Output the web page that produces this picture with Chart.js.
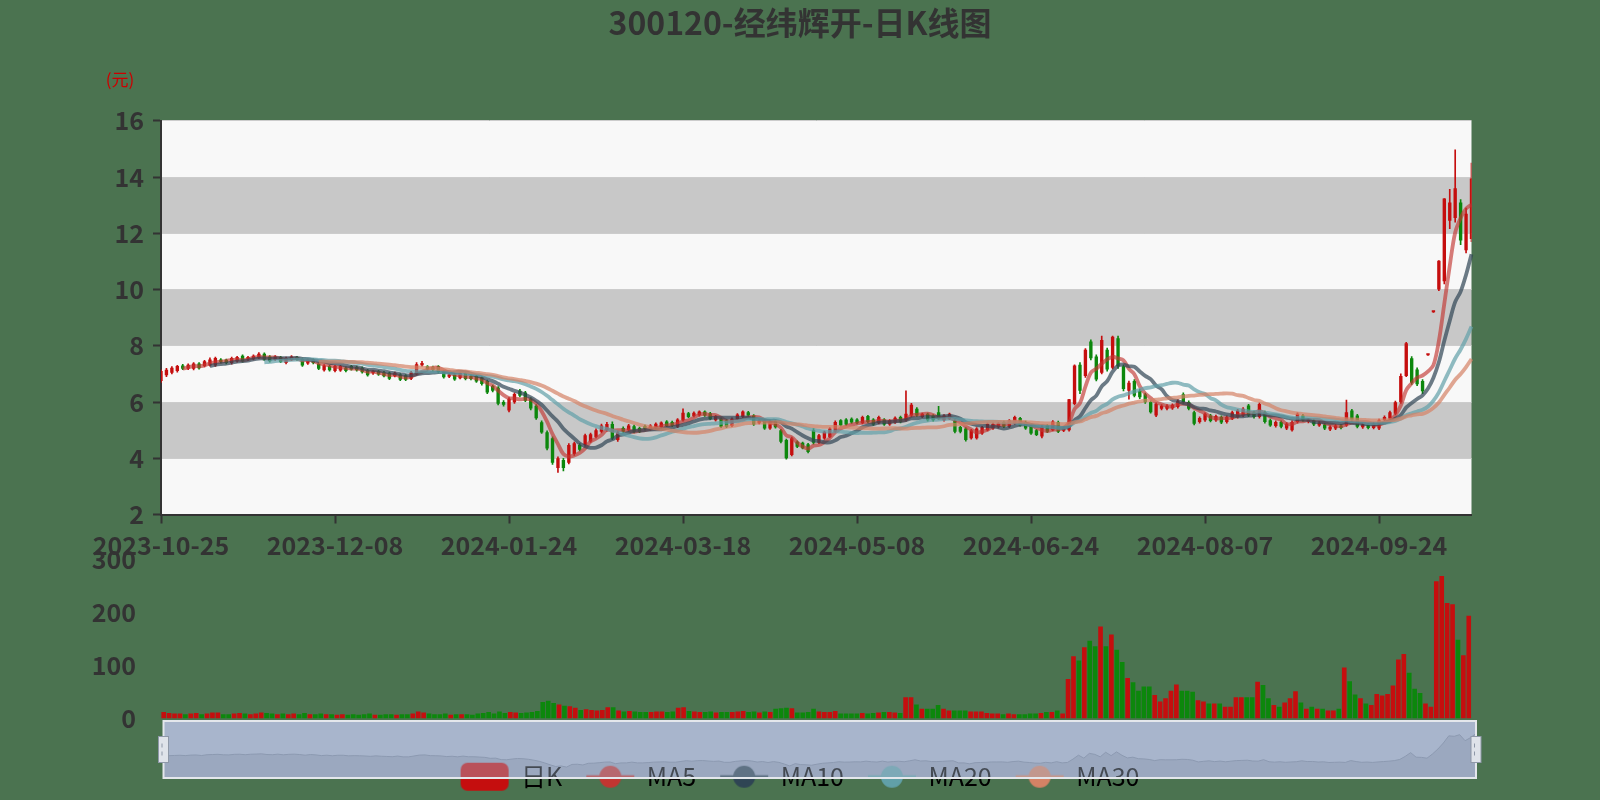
<!DOCTYPE html>
<html>
<head>
<meta charset="utf-8">
<title>300120-经纬辉开-日K线图</title>
<script src="https://cdn.jsdelivr.net/npm/chart.js@4.4.1/dist/chart.umd.min.js"></script>
<style>
  html, body { margin: 0; padding: 0; background: #4b7350; }
  #wrap { position: relative; width: 1600px; height: 800px; overflow: hidden; }
  #wrap canvas { position: absolute; left: 0; top: 0; }
</style>
</head>
<body>
<div id="wrap">
  <canvas id="zoomChart" width="1600" height="800"></canvas>
  <canvas id="volChart" width="1600" height="800"></canvas>
  <canvas id="kChart" width="1600" height="800"></canvas>
</div>
<script>
// 交易日
const dates = [
  '2023-10-25','2023-10-26','2023-10-27','2023-10-30','2023-10-31',
  '2023-11-01','2023-11-02','2023-11-03','2023-11-06','2023-11-07','2023-11-08','2023-11-09','2023-11-10','2023-11-13','2023-11-14','2023-11-15','2023-11-16','2023-11-17','2023-11-20','2023-11-21','2023-11-22','2023-11-23','2023-11-24','2023-11-27','2023-11-28','2023-11-29','2023-11-30',
  '2023-12-01','2023-12-04','2023-12-05','2023-12-06','2023-12-07','2023-12-08','2023-12-11','2023-12-12','2023-12-13','2023-12-14','2023-12-15','2023-12-18','2023-12-19','2023-12-20','2023-12-21','2023-12-22','2023-12-25','2023-12-26','2023-12-27','2023-12-28','2023-12-29',
  '2024-01-02','2024-01-03','2024-01-04','2024-01-05','2024-01-08','2024-01-09','2024-01-10','2024-01-11','2024-01-12','2024-01-15','2024-01-16','2024-01-17','2024-01-18','2024-01-19','2024-01-22','2024-01-23','2024-01-24','2024-01-25','2024-01-26','2024-01-29','2024-01-30','2024-01-31',
  '2024-02-01','2024-02-02','2024-02-05','2024-02-06','2024-02-07','2024-02-08','2024-02-19','2024-02-20','2024-02-21','2024-02-22','2024-02-23','2024-02-26','2024-02-27','2024-02-28','2024-02-29',
  '2024-03-01','2024-03-04','2024-03-05','2024-03-06','2024-03-07','2024-03-08','2024-03-11','2024-03-12','2024-03-13','2024-03-14','2024-03-15','2024-03-18','2024-03-19','2024-03-20','2024-03-21','2024-03-22','2024-03-25','2024-03-26','2024-03-27','2024-03-28','2024-03-29',
  '2024-04-01','2024-04-02','2024-04-03','2024-04-08','2024-04-09','2024-04-10','2024-04-11','2024-04-12','2024-04-15','2024-04-16','2024-04-17','2024-04-18','2024-04-19','2024-04-22','2024-04-23','2024-04-24','2024-04-25','2024-04-26','2024-04-29','2024-04-30',
  '2024-05-06','2024-05-07','2024-05-08','2024-05-09','2024-05-10','2024-05-13','2024-05-14','2024-05-15','2024-05-16','2024-05-17','2024-05-20','2024-05-21','2024-05-22','2024-05-23','2024-05-24','2024-05-27','2024-05-28','2024-05-29','2024-05-30','2024-05-31',
  '2024-06-03','2024-06-04','2024-06-05','2024-06-06','2024-06-07','2024-06-11','2024-06-12','2024-06-13','2024-06-14','2024-06-17','2024-06-18','2024-06-19','2024-06-20','2024-06-21','2024-06-24','2024-06-25','2024-06-26','2024-06-27','2024-06-28',
  '2024-07-01','2024-07-02','2024-07-03','2024-07-04','2024-07-05','2024-07-08','2024-07-09','2024-07-10','2024-07-11','2024-07-12','2024-07-15','2024-07-16','2024-07-17','2024-07-18','2024-07-19','2024-07-22','2024-07-23','2024-07-24','2024-07-25','2024-07-26','2024-07-29','2024-07-30','2024-07-31',
  '2024-08-01','2024-08-02','2024-08-05','2024-08-06','2024-08-07','2024-08-08','2024-08-09','2024-08-12','2024-08-13','2024-08-14','2024-08-15','2024-08-16','2024-08-19','2024-08-20','2024-08-21','2024-08-22','2024-08-23','2024-08-26','2024-08-27','2024-08-28','2024-08-29','2024-08-30',
  '2024-09-02','2024-09-03','2024-09-04','2024-09-05','2024-09-06','2024-09-09','2024-09-10','2024-09-11','2024-09-12','2024-09-13','2024-09-18','2024-09-19','2024-09-20','2024-09-23','2024-09-24','2024-09-25','2024-09-26','2024-09-27','2024-09-30',
  '2024-10-08','2024-10-09','2024-10-10','2024-10-11','2024-10-14','2024-10-15','2024-10-16','2024-10-17','2024-10-18','2024-10-21','2024-10-22','2024-10-23','2024-10-24'
];

// [开盘, 收盘, 最低, 最高]
const kData = [
  [6.75,7.10,6.70,7.15],[6.95,7.15,6.90,7.20],[7.04,7.22,7.00,7.26],[7.10,7.28,7.06,7.31],[7.30,7.18,7.15,7.34],
  [7.18,7.33,7.15,7.36],[7.18,7.37,7.14,7.40],[7.37,7.20,7.17,7.40],[7.28,7.45,7.25,7.48],[7.30,7.51,7.28,7.57],
  [7.30,7.57,7.27,7.60],[7.51,7.42,7.38,7.55],[7.50,7.39,7.36,7.53],[7.39,7.57,7.35,7.60],[7.45,7.60,7.42,7.63],
  [7.65,7.45,7.42,7.68],[7.51,7.60,7.47,7.63],[7.53,7.65,7.50,7.68],[7.57,7.72,7.54,7.76],[7.72,7.51,7.48,7.75],
  [7.62,7.45,7.42,7.65],[7.51,7.62,7.48,7.65],[7.60,7.42,7.40,7.63],[7.39,7.57,7.36,7.60],[7.50,7.62,7.47,7.65],
  [7.60,7.51,7.48,7.63],[7.53,7.30,7.27,7.56],[7.37,7.51,7.34,7.54],[7.51,7.39,7.36,7.54],[7.37,7.18,7.15,7.40],
  [7.13,7.30,7.10,7.33],[7.28,7.13,7.10,7.31],[7.10,7.28,7.07,7.31],[7.12,7.28,7.09,7.31],[7.22,7.10,7.07,7.25],
  [7.28,7.16,7.13,7.31],[7.25,7.13,7.10,7.28],[7.22,7.06,7.03,7.25],[7.13,6.95,6.92,7.16],[7.02,7.10,6.98,7.13],
  [7.10,6.98,6.95,7.13],[7.06,6.92,6.89,7.09],[7.04,6.83,6.80,7.07],[6.92,7.04,6.89,7.07],[6.98,6.79,6.76,7.01],
  [6.95,6.79,6.76,6.98],[6.83,7.06,6.80,7.09],[6.99,7.34,6.96,7.40],[7.31,7.39,7.28,7.45],[7.27,7.16,7.13,7.30],
  [7.25,7.14,7.11,7.28],[7.27,7.07,7.04,7.30],[7.09,6.88,6.85,7.12],[6.90,6.98,6.87,7.01],[6.98,6.80,6.77,7.01],
  [6.85,7.03,6.82,7.06],[7.03,6.82,6.79,7.06],[6.93,6.82,6.79,6.96],[6.93,6.73,6.70,6.96],[6.88,6.64,6.60,6.91],
  [6.75,6.34,6.30,6.78],[6.57,6.40,6.36,6.60],[6.52,5.94,5.90,6.55],[6.00,5.90,5.85,6.05],[5.70,6.12,5.65,6.16],
  [5.99,6.29,5.95,6.33],[6.40,6.22,6.18,6.45],[6.34,6.05,6.01,6.38],[6.12,5.77,5.72,6.16],[5.87,5.42,5.38,5.91],
  [5.28,4.92,4.88,5.33],[4.93,4.35,4.30,4.98],[4.71,3.84,3.78,4.76],[3.65,4.00,3.50,4.05],[3.94,3.65,3.55,4.00],
  [3.84,4.47,3.80,4.52],[4.15,4.53,4.10,4.58],[4.47,4.30,4.26,4.52],[4.47,4.82,4.43,4.86],[4.60,4.85,4.56,4.90],
  [4.76,5.00,4.72,5.05],[4.94,5.17,4.90,5.22],[5.00,5.22,4.96,5.28],[5.22,4.70,4.66,5.30],[4.65,4.93,4.60,4.97],
  [5.08,4.94,4.90,5.12],[5.00,5.17,4.96,5.21],[5.14,4.94,4.90,5.18],[5.08,4.94,4.91,5.11],[5.15,5.03,5.00,5.18],
  [5.03,5.17,5.00,5.20],[5.08,5.23,5.05,5.26],[5.11,5.27,5.08,5.30],[5.31,5.15,5.12,5.34],[5.29,5.15,5.12,5.32],
  [5.12,5.38,5.09,5.41],[5.35,5.62,5.32,5.76],[5.60,5.47,5.44,5.63],[5.50,5.62,5.47,5.65],[5.53,5.66,5.50,5.69],
  [5.66,5.52,5.49,5.69],[5.60,5.40,5.37,5.63],[5.35,5.50,5.32,5.53],[5.41,5.12,5.09,5.44],[5.35,5.12,5.09,5.38],
  [5.15,5.41,5.12,5.44],[5.40,5.56,5.37,5.59],[5.47,5.66,5.44,5.69],[5.64,5.52,5.49,5.67],[5.52,5.20,5.17,5.55],
  [5.25,5.35,5.22,5.38],[5.35,5.06,5.03,5.38],[5.06,5.33,5.03,5.36],[5.33,5.10,5.07,5.36],[5.00,4.59,4.55,5.03],
  [4.65,4.00,3.97,4.68],[4.12,4.71,4.08,4.75],[4.59,4.41,4.38,4.62],[4.55,4.36,4.33,4.58],[4.50,4.22,4.19,4.53],
  [5.00,4.55,4.50,5.06],[4.55,4.82,4.52,4.85],[4.70,4.94,4.67,4.97],[4.76,5.06,4.73,5.09],[4.95,5.29,4.92,5.33],
  [5.35,5.17,5.14,5.38],[5.38,5.20,5.17,5.41],[5.41,5.27,5.24,5.44],[5.38,5.25,5.22,5.41],[5.25,5.47,5.22,5.50],
  [5.50,5.29,5.26,5.53],[5.38,5.20,5.17,5.41],[5.25,5.47,5.22,5.50],[5.38,5.20,5.17,5.41],[5.20,5.35,5.17,5.38],
  [5.27,5.44,5.24,5.47],[5.47,5.29,5.26,5.50],[5.35,5.58,5.32,6.40],[5.52,5.90,5.48,5.95],[5.76,5.52,5.49,5.80],
  [5.47,5.58,5.44,5.61],[5.58,5.35,5.32,5.61],[5.52,5.35,5.32,5.55],[5.64,5.41,5.38,5.85],[5.35,5.52,5.32,5.55],
  [5.40,5.58,5.37,5.61],[5.35,4.94,4.90,5.38],[5.11,4.94,4.90,5.14],[5.06,4.65,4.61,5.09],[4.71,5.00,4.68,5.03],
  [4.71,5.06,4.68,5.09],[4.88,5.11,4.85,5.14],[5.00,5.23,4.97,5.26],[5.06,5.23,5.03,5.26],[5.10,5.25,5.07,5.28],
  [5.29,5.12,5.09,5.32],[5.12,5.35,5.09,5.38],[5.23,5.47,5.20,5.50],[5.43,5.17,5.14,5.46],[5.29,5.06,5.03,5.32],
  [5.17,4.88,4.85,5.20],[5.00,4.83,4.80,5.03],[4.77,5.12,4.72,5.15],[5.17,4.94,4.91,5.20],[5.00,5.31,4.97,5.34],
  [5.29,4.94,4.91,5.32],[4.98,5.08,4.95,5.11],[5.00,6.10,4.96,6.10],[5.93,7.30,5.90,7.32],[7.33,6.40,6.30,7.40],
  [6.93,7.86,6.88,7.90],[8.15,7.56,7.50,8.21],[7.62,6.80,6.75,7.68],[7.04,8.21,7.00,8.35],[7.86,7.16,7.10,7.92],
  [7.22,8.32,7.18,8.35],[8.27,7.27,7.20,8.35],[7.27,6.46,6.40,7.32],[6.40,6.69,6.10,6.75],[6.75,6.22,6.18,6.80],
  [6.40,6.17,6.12,6.45],[6.28,5.99,5.95,6.32],[6.00,5.64,5.60,6.04],[5.52,5.93,5.48,5.97],[5.76,5.87,5.72,5.91],
  [5.76,5.87,5.72,5.91],[5.78,5.90,5.74,5.94],[5.82,6.05,5.78,6.09],[6.28,5.99,5.95,6.33],[6.00,5.76,5.72,6.04],
  [5.64,5.23,5.19,5.68],[5.29,5.43,5.25,5.47],[5.35,5.58,5.31,5.62],[5.52,5.33,5.29,5.56],[5.35,5.50,5.31,5.54],
  [5.47,5.27,5.23,5.51],[5.29,5.47,5.25,5.51],[5.41,5.64,5.37,5.68],[5.47,5.70,5.43,5.74],[5.52,5.76,5.48,5.80],
  [5.88,5.52,5.48,5.92],[5.64,5.47,5.43,5.68],[5.47,5.93,5.43,5.97],[5.64,5.29,5.25,5.68],[5.35,5.17,5.13,5.39],
  [5.15,5.29,5.11,5.33],[5.29,5.12,5.08,5.33],[5.06,5.23,5.02,5.27],[5.00,5.29,4.96,5.33],[5.29,5.58,5.25,5.62],
  [5.52,5.35,5.31,5.56],[5.30,5.38,5.26,5.42],[5.35,5.20,5.16,5.39],[5.17,5.27,5.13,5.31],[5.20,5.06,5.02,5.24],
  [5.02,5.12,4.98,5.16],[5.06,5.17,5.02,5.21],[5.17,5.08,5.04,5.21],[5.17,5.64,5.13,6.07],[5.70,5.35,5.31,5.74],
  [5.52,5.12,5.08,5.56],[5.10,5.20,5.06,5.24],[5.20,5.08,5.04,5.24],[5.08,5.23,5.04,5.27],[5.06,5.35,5.02,5.39],
  [5.36,5.47,5.32,5.51],[5.41,5.64,5.37,5.68],[5.58,5.99,5.54,6.03],[5.99,6.93,5.95,7.00],[6.93,8.09,6.90,8.12],
  [7.56,6.69,6.63,7.62],[7.16,6.63,6.58,7.22],[6.75,6.38,6.30,6.80],[7.66,7.66,7.66,7.66],[9.19,9.19,9.19,9.19],
  [10.00,11.03,9.96,11.03],[10.30,13.24,10.20,13.24],[12.45,13.10,12.17,13.57],[12.55,13.60,12.40,14.97],[13.10,11.75,11.60,13.20],
  [11.40,12.70,11.30,12.90],[11.80,13.95,11.70,14.50]
];

// 成交量(万手)
const volumes = [
  12,10,9,9,8,9,10,8,9,11,
  11,8,8,9,10,9,8,9,11,10,
  9,8,9,8,9,8,10,8,8,9,
  8,8,7,8,7,8,7,8,9,7,
  7,8,8,7,8,8,9,13,11,9,
  8,8,9,7,8,8,8,7,9,10,
  12,9,13,10,12,11,10,11,12,14,
  31,33,29,26,24,23,20,16,17,16,
  15,16,21,21,15,13,14,13,12,12,
  12,13,13,12,13,20,21,14,13,12,
  12,13,11,12,12,12,13,14,12,13,
  11,13,12,18,19,20,19,11,11,12,
  18,13,12,12,14,9,9,9,9,10,
  9,10,11,12,12,11,10,40,40,26,
  18,18,18,25,18,15,15,15,15,13,
  13,13,10,9,9,8,9,8,8,8,
  9,9,10,12,12,15,9,74,117,109,
  134,146,136,173,136,158,129,106,76,68,
  52,60,60,44,32,38,52,64,52,52,
  50,34,32,28,28,28,22,22,40,40,
  40,40,69,63,38,25,22,30,38,51,
  30,18,22,18,18,15,15,18,96,70,
  45,38,28,25,46,43,46,62,111,121,
  86,56,48,28,22,258,268,217,215,148,
  119,193
];

const priceTicks = [2, 16, 2];     // min, max, step
const volumeTicks = [0, 300, 100];
const labelInterval = 32;
const maPeriods = [5, 10, 20, 30];
const maNames = ['MA5', 'MA10', 'MA20', 'MA30'];

const upColor = '#c50e0e';
const downColor = '#0c870c';
const maBase = ['#c23531', '#2f4554', '#61a0a8', '#d48265'];
const maLine = ['rgba(194,53,49,0.65)', 'rgba(47,69,84,0.7)', 'rgba(97,160,168,0.7)', 'rgba(212,130,101,0.7)'];
const tickFont = { size: 25, weight: 'bold' };

Chart.defaults.font.family = "'Noto Sans CJK SC', 'Noto Sans', sans-serif";
Chart.defaults.color = '#333';

function calculateMA(dayCount) {
  const result = [];
  for (let i = 0; i < kData.length; i++) {
    if (i < dayCount - 1) { result.push(null); continue; }
    let sum = 0;
    for (let j = 0; j < dayCount; j++) sum += kData[i - j][1];
    result.push(+(sum / dayCount).toFixed(3));
  }
  return result;
}

const closes = kData.map(d => d[1]);
const candleColors = kData.map(d => d[1] >= d[0] ? upColor : downColor);

// 缩略轴 (底层)
const zoomChart = new Chart(document.getElementById('zoomChart'), {
  type: 'line',
  data: {
    labels: dates,
    datasets: [{
      data: closes,
      borderColor: '#7a869e',
      borderWidth: 1,
      backgroundColor: '#939fb6',
      fill: 'start',
      pointRadius: 0,
      tension: 0
    }]
  },
  options: {
    responsive: false,
    animation: false,
    devicePixelRatio: 1,
    layout: { padding: { left: 163.5, right: 124, top: 721, bottom: 22 } },
    scales: {
      x: { display: false, offset: false },
      y: { display: false, min: 0.3, max: 17.8 }
    },
    plugins: { legend: { display: false }, tooltip: { enabled: false } }
  },
  plugins: [{
    id: 'sliderBg',
    beforeDraw(chart) {
      const { ctx, chartArea: a } = chart;
      ctx.save();
      ctx.fillStyle = '#a9b5cc';
      ctx.fillRect(a.left, a.top, a.right - a.left, a.bottom - a.top);
      ctx.restore();
    }
  }]
});

// 成交量
new Chart(document.getElementById('volChart'), {
  type: 'bar',
  data: {
    labels: dates,
    datasets: [{
      data: volumes,
      backgroundColor: candleColors,
      barPercentage: 0.86,
      categoryPercentage: 1
    }]
  },
  options: {
    responsive: false,
    animation: false,
    devicePixelRatio: 1,
    layout: { padding: { left: 0, right: 128.5, top: 559, bottom: 81.6 } },
    scales: {
      x: { display: false },
      y: {
        min: volumeTicks[0], max: volumeTicks[1],
        ticks: { stepSize: volumeTicks[2], color: '#333', font: tickFont, padding: 17 },
        grid: { display: false },
        border: { display: false },
        afterFit: axis => { axis.width = 161; }
      }
    },
    plugins: { legend: { display: false }, tooltip: { enabled: false } }
  }
});

// 图例图标
function legendIcon(kind, color) {
  const c = document.createElement('canvas');
  c.width = 50; c.height = 30;
  const g = c.getContext('2d');
  g.fillStyle = color;
  g.strokeStyle = color;
  if (kind === 'k') {
    g.beginPath(); g.roundRect(1, 1, 48, 28, 7); g.fill();
  } else {
    g.lineWidth = 3;
    g.beginPath(); g.moveTo(1, 15); g.lineTo(49, 15); g.stroke();
    g.beginPath(); g.arc(25, 15, 11, 0, Math.PI * 2); g.fill();
  }
  return c;
}

const legendItems = [{ text: '日K', pointStyle: legendIcon('k', upColor), fillStyle: upColor, strokeStyle: upColor, lineWidth: 0, hidden: false, datasetIndex: 0 }]
  .concat(maNames.map((n, i) => ({ text: n, pointStyle: legendIcon('line', maBase[i]), fillStyle: maBase[i], strokeStyle: maBase[i], lineWidth: 0, hidden: false, datasetIndex: i + 2 })));

const bandPlugin = {
  id: 'bands',
  beforeDraw(chart) {
    const { ctx, chartArea: a, scales: { y } } = chart;
    ctx.save();
    for (let v = priceTicks[0]; v < priceTicks[1]; v += priceTicks[2]) {
      const top = y.getPixelForValue(v + priceTicks[2]);
      const bottom = y.getPixelForValue(v);
      ctx.fillStyle = ((v - priceTicks[0]) / priceTicks[2]) % 2 === 0 ? '#f8f8f8' : '#c8c8c8';
      ctx.fillRect(a.left, top, a.right - a.left, bottom - top);
    }
    ctx.restore();
  }
};

const overlayPlugin = {
  id: 'overlay',
  afterDraw(chart) {
    const ctx = chart.ctx;
    const a = zoomChart.chartArea;
    ctx.save();
    // 单位
    ctx.fillStyle = '#cc0000';
    ctx.font = "17px 'Noto Sans CJK SC'";
    ctx.textAlign = 'center';
    ctx.textBaseline = 'middle';
    ctx.fillText('(元)', 120, 80);
    // 缩略轴选中区
    ctx.fillStyle = 'rgba(167,183,204,0.4)';
    ctx.fillRect(a.left, a.top, a.right - a.left, a.bottom - a.top);
    ctx.strokeStyle = '#e4e7ec';
    ctx.lineWidth = 2;
    ctx.strokeRect(a.left, a.top, a.right - a.left, a.bottom - a.top);
    const mid = (a.top + a.bottom) / 2;
    [a.left, a.right].forEach(x => {
      ctx.fillStyle = '#dfe3ea';
      ctx.fillRect(x - 5, mid - 13, 10, 26);
      ctx.strokeStyle = '#8e98a8';
      ctx.lineWidth = 1;
      ctx.strokeRect(x - 5, mid - 13, 10, 26);
      ctx.beginPath();
      ctx.moveTo(x - 1.5, mid - 6); ctx.lineTo(x - 1.5, mid - 2);
      ctx.moveTo(x - 1.5, mid + 2); ctx.lineTo(x - 1.5, mid + 6);
      ctx.stroke();
    });
    ctx.restore();
  }
};

// K线主图
new Chart(document.getElementById('kChart'), {
  type: 'bar',
  data: {
    labels: dates,
    datasets: [
      {
        label: '日K',
        data: kData.map(d => [d[0], d[1]]),
        backgroundColor: candleColors,
        barPercentage: 0.62,
        categoryPercentage: 1,
        minBarLength: 2,
        grouped: false,
        order: 10
      },
      {
        label: '日K影线',
        data: kData.map(d => [d[2], d[3]]),
        backgroundColor: candleColors,
        barThickness: 1,
        grouped: false,
        order: 11
      }
    ].concat(maPeriods.map((p, i) => ({
      type: 'line',
      label: maNames[i],
      data: calculateMA(p),
      borderColor: maLine[i],
      borderWidth: 3.8,
      pointRadius: 0,
      tension: 0.35,
      order: 4 - i
    })))
  },
  options: {
    responsive: false,
    animation: false,
    devicePixelRatio: 1,
    layout: { padding: { left: 0, right: 0, top: 0, bottom: 0.8 } },
    scales: {
      x: {
        type: 'category',
        offset: false,
        grid: { display: true, offset: false, drawOnChartArea: false, drawTicks: true, tickLength: 9, tickColor: '#333', tickWidth: 2 },
        border: { display: true, color: '#333', width: 2 },
        ticks: { autoSkip: false, maxRotation: 0, color: '#333', font: tickFont, padding: 7 },
        afterBuildTicks: axis => { axis.ticks = axis.ticks.filter(t => t.value % labelInterval === 0); },
        afterFit: axis => { axis.height = 225.7; }
      },
      y: {
        min: priceTicks[0], max: priceTicks[1],
        ticks: { stepSize: priceTicks[2], color: '#333', font: tickFont, padding: 9 },
        grid: { drawOnChartArea: true, color: '#cccccc', tickLength: 8, tickColor: '#333', tickWidth: 2 },
        border: { color: '#333', width: 2 },
        afterFit: axis => { axis.width = 161; }
      },
      yRight: {
        position: 'right',
        display: true,
        grid: { display: false },
        ticks: { display: false },
        border: { display: false },
        afterFit: axis => { axis.width = 128.5; }
      }
    },
    plugins: {
      title: {
        display: true,
        text: '300120-经纬辉开-日K线图',
        color: '#333',
        font: { size: 32, weight: 'bold' },
        padding: { top: 3.5, bottom: 79 }
      },
      legend: {
        display: true,
        position: 'bottom',
        labels: {
          usePointStyle: true,
          pointStyleWidth: 48,
          padding: 24,
          color: '#333',
          font: { size: 25 },
          generateLabels: () => legendItems
        }
      },
      tooltip: { enabled: false }
    }
  },
  plugins: [bandPlugin, overlayPlugin]
});
</script>
</body>
</html>
